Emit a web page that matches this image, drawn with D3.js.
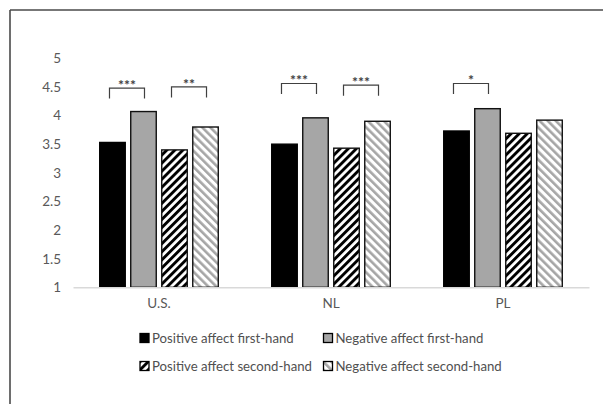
<!DOCTYPE html>
<html>
<head>
<meta charset="utf-8">
<script src="https://cdn.jsdelivr.net/npm/d3@7"></script>
<style>
  html, body { margin: 0; padding: 0; background: #fff; }
  svg { display: block; }
  text { font-family: Lato, "Open Sans", sans-serif; }
</style>
</head>
<body>
<svg id="chart" width="603" height="404"></svg>
<script>
// Countries along the x axis
const categories = ["U.S.", "NL", "PL"];
// Series (bar order inside each country)
const series = [
  "Positive affect first-hand",
  "Negative affect first-hand",
  "Positive affect second-hand",
  "Negative affect second-hand"
];
// Mean ratings per series, one value per country
const posFirst  = [3.53, 3.50, 3.73];
const negFirst  = [4.07, 3.96, 4.12];
const posSecond = [3.40, 3.43, 3.69];
const negSecond = [3.80, 3.90, 3.92];
const seriesValues = [posFirst, negFirst, posSecond, negSecond];
// Y tick labels
const yTicks = [1, 1.5, 2, 2.5, 3, 3.5, 4, 4.5, 5];
// Significance brackets: country, bar pair, stars, bracket level (rating units)
const sigCountry = ["U.S.", "U.S.", "NL", "NL", "PL"];
const sigPair    = [[0, 1], [2, 3], [0, 1], [2, 3], [0, 1]];
const sigLabel   = ["***", "**", "***", "***", "*"];
const sigLevel   = [4.48, 4.50, 4.56, 4.53, 4.56];

const svg = d3.select("#chart");

// Frame lines along top and left
svg.append("line").attr("x1", 10).attr("y1", 10).attr("x2", 603).attr("y2", 10)
  .attr("stroke", "#4a4a4a").attr("stroke-width", 1.6);
svg.append("line").attr("x1", 10).attr("y1", 10).attr("x2", 10).attr("y2", 404)
  .attr("stroke", "#4a4a4a").attr("stroke-width", 1.6);

// Hatch patterns
const defs = svg.append("defs");
function hatch(id, color, angle, width) {
  const p = defs.append("pattern")
    .attr("id", id)
    .attr("patternUnits", "userSpaceOnUse")
    .attr("width", 5.7).attr("height", 5.7)
    .attr("patternTransform", `rotate(${angle})`);
  p.append("rect").attr("width", 5.7).attr("height", 5.7).attr("fill", "#fff");
  p.append("rect").attr("width", width).attr("height", 5.7).attr("fill", color);
}
hatch("hatchDark", "#000", 45, 2.9);
hatch("hatchLight", "#a6a6a6", -45, 2.6);

const fills = ["#000", "#a6a6a6", "url(#hatchDark)", "url(#hatchLight)"];

const x0 = d3.scaleBand().domain(categories).range([73, 589]).padding(0);
const x1 = d3.scaleBand().domain(series).range([0, x0.bandwidth()])
  .paddingInner(0.177).paddingOuter(0.862);
const y = d3.scaleLinear().domain([1, 5]).range([287.3, 58.3]);

// Y axis labels
const yAxis = svg.append("g").attr("transform", "translate(61,0)")
  .call(d3.axisLeft(y).tickValues(yTicks).tickSize(0).tickPadding(0)
    .tickFormat(d => String(d)));
yAxis.select(".domain").remove();
yAxis.selectAll("text").attr("fill", "#595959").style("font-size", "13.5px")
  .style("font-family", "Lato, 'Open Sans', sans-serif");

// Bars
const groups = svg.append("g").selectAll("g")
  .data(categories)
  .join("g")
  .attr("transform", d => `translate(${x0(d)},0)`);

groups.selectAll("rect")
  .data((c, ci) => series.map((s, si) => ({ s, si, v: seriesValues[si][ci] })))
  .join("rect")
  .attr("x", d => x1(d.s))
  .attr("y", d => y(d.v))
  .attr("width", x1.bandwidth())
  .attr("height", d => y(1) - y(d.v))
  .attr("fill", d => fills[d.si])
  .attr("stroke", d => d.si === 0 ? "#000" : "#111")
  .attr("stroke-width", 1.4);

// X axis
const xAxis = svg.append("g").attr("transform", `translate(0,${y(1)})`)
  .call(d3.axisBottom(x0).tickSize(0).tickPadding(11));
xAxis.select(".domain").attr("stroke", "#d9d9d9").attr("stroke-width", 1.5);
xAxis.selectAll("text").attr("fill", "#595959").style("font-size", "13.5px")
  .style("font-family", "Lato, 'Open Sans', sans-serif");

// Significance brackets
const sig = svg.append("g");
sigLabel.forEach((lab, i) => {
  const gx = x0(sigCountry[i]);
  const a = gx + x1(series[sigPair[i][0]]) + x1.bandwidth() / 2 - 3;
  const b = gx + x1(series[sigPair[i][1]]) + x1.bandwidth() / 2 + 1;
  const top = y(sigLevel[i]);
  sig.append("path")
    .attr("d", `M${a},${top + 10.5}V${top}H${b}V${top + 10.5}`)
    .attr("fill", "none").attr("stroke", "#404040").attr("stroke-width", 1.2);
  sig.append("text")
    .attr("x", (a + b) / 2).attr("y", top + 2)
    .attr("text-anchor", "middle")
    .attr("fill", "#404040")
    .style("font-size", "14px").style("font-weight", "bold")
    .text(lab);
});

// Legend
const legendX = [140, 323.5];
const legendY = [338, 366];
const legend = svg.append("g");
series.forEach((s, i) => {
  const lx = legendX[i % 2], ly = legendY[Math.floor(i / 2)];
  legend.append("rect")
    .attr("x", lx).attr("y", ly - 4.5).attr("width", 9).attr("height", 9)
    .attr("fill", fills[i]).attr("stroke", "#000").attr("stroke-width", 1.3);
  legend.append("text")
    .attr("x", lx + 12).attr("y", ly).attr("dy", "0.35em")
    .attr("fill", "#505050").style("font-size", "13.2px")
    .text(s);
});
</script>
</body>
</html>
